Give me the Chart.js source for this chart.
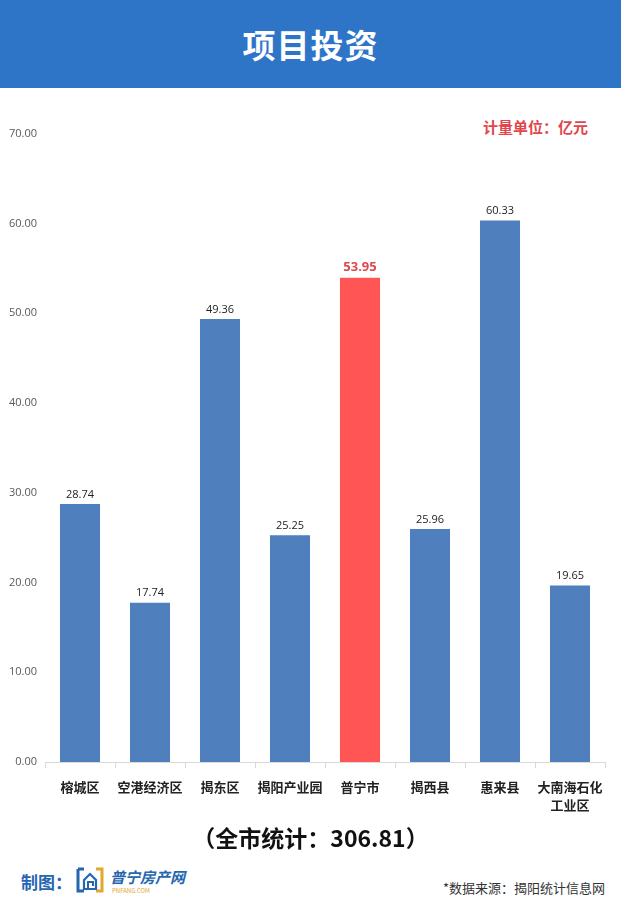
<!DOCTYPE html>
<html>
<head>
<meta charset="utf-8">
<script src="https://cdn.jsdelivr.net/npm/chart.js@4/dist/chart.umd.min.js"></script>
<style>
  html, body { margin:0; padding:0; background:#fff; }
  body { width:621px; height:923px; position:relative; overflow:hidden; font-family:"Noto Sans CJK SC","Noto Sans",sans-serif; }
  #header { position:absolute; left:0; top:0; width:621px; height:88px; background:#2e75c8; color:#fff; font-weight:bold; font-size:33px; text-align:center; line-height:88px; letter-spacing:1px; }
  #unit { position:absolute; right:33px; top:116px; color:#e0474c; font-weight:bold; font-size:15px; }
  #wrap { position:absolute; left:0; top:119px; width:621px; height:703px; }
  #total { position:absolute; left:0; width:621px; top:820px; text-align:center; font-weight:bold; font-size:23px; color:#111; }
  #maker { position:absolute; left:21px; top:869px; color:#2566b0; font-weight:bold; font-size:17px; }
  #logo { position:absolute; left:75px; top:866px; width:30px; height:28px; }
  #logotxt { position:absolute; left:110px; top:866px; color:#2566b0; font-weight:bold; font-size:15px; font-style:italic; }
  #logosub { position:absolute; left:112px; top:886px; color:#e0a830; font-size:6px; }
  #source { position:absolute; right:16px; top:878px; color:#333; font-size:13px; }
</style>
</head>
<body>
<div id="header">项目投资</div>
<div id="unit">计量单位：亿元</div>
<div id="wrap"><canvas id="c"></canvas></div>
<div id="total">（全市统计：306.81）</div>
<div id="maker">制图：</div>
<svg id="logo" viewBox="0 0 30 28">
  <path d="M3 3 H9 M3 3 V25 H9" stroke="#2566b0" stroke-width="3" fill="none"/>
  <path d="M21 3 H27 V25 H21" stroke="#e0a830" stroke-width="3" fill="none"/>
  <path d="M9 14 L15 8 L21 14 V23 H9 Z" stroke="#2566b0" stroke-width="2.2" fill="none"/>
  <path d="M13 23 V16 H18 V20" stroke="#2566b0" stroke-width="2" fill="none"/>
</svg>
<div id="logotxt">普宁房产网</div>
<div id="logosub">PNFANG.COM</div>
<div id="source">*数据来源：揭阳统计信息网</div>
<script>
const categories = ["榕城区", "空港经济区", "揭东区", "揭阳产业园", "普宁市", "揭西县", "惠来县", ["大南海石化", "工业区"]];
const values = [28.74, 17.74, 49.36, 25.25, 53.95, 25.96, 60.33, 19.65];
const highlightIndex = 4;
const yTicks = [0, 10, 20, 30, 40, 50, 60, 70];

const barColors = values.map((v, i) => i === highlightIndex ? "#ff5555" : "#4f7fbc");

const valueLabels = {
  id: "valueLabels",
  afterDatasetsDraw(chart) {
    const ctx = chart.ctx;
    const meta = chart.getDatasetMeta(0);
    ctx.save();
    ctx.textAlign = "center";
    ctx.textBaseline = "bottom";
    meta.data.forEach((bar, i) => {
      if (i === highlightIndex) {
        ctx.font = "bold 13px 'Open Sans','Noto Sans',sans-serif";
        ctx.fillStyle = "#e0474c";
      } else {
        ctx.font = "11px 'Open Sans','Noto Sans',sans-serif";
        ctx.fillStyle = "#222";
      }
      ctx.fillText(values[i].toFixed(2), bar.x, bar.y - 4);
    });
    ctx.restore();
  }
};

new Chart(document.getElementById("c"), {
  type: "bar",
  data: {
    labels: categories,
    datasets: [{
      data: values,
      backgroundColor: barColors,
      borderWidth: 0,
      barPercentage: 0.572,
      categoryPercentage: 1.0
    }]
  },
  options: {
    responsive: true,
    maintainAspectRatio: false,
    animation: false,
    layout: { padding: { top: 0, right: 16, left: 0, bottom: 0 } },
    plugins: { legend: { display: false }, tooltip: { enabled: false } },
    scales: {
      x: {
        grid: { display: true, drawOnChartArea: false, color: "#d9d9d9", tickLength: 6, offset: true },
        border: { display: true, color: "#d9d9d9" },
        ticks: {
          color: "#222",
          font: { size: 13, weight: "bold", family: "'Noto Sans CJK SC',sans-serif", lineHeight: 1.4 },
          padding: 10,
          maxRotation: 0,
          autoSkip: false
        },
        afterFit(scale) { scale.height = 60; }
      },
      y: {
        min: 0,
        max: 70,
        afterBuildTicks(scale) { scale.ticks = yTicks.map(v => ({ value: v })); },
        grid: { display: false, drawTicks: false },
        border: { display: false },
        ticks: {
          color: "#595959",
          font: { size: 11, family: "'Open Sans','Noto Sans',sans-serif" },
          padding: 8,
          callback: (v) => Number(v).toFixed(2)
        },
        afterFit(scale) { scale.width = 45; }
      }
    }
  },
  plugins: [valueLabels]
});
</script>
</body>
</html>
